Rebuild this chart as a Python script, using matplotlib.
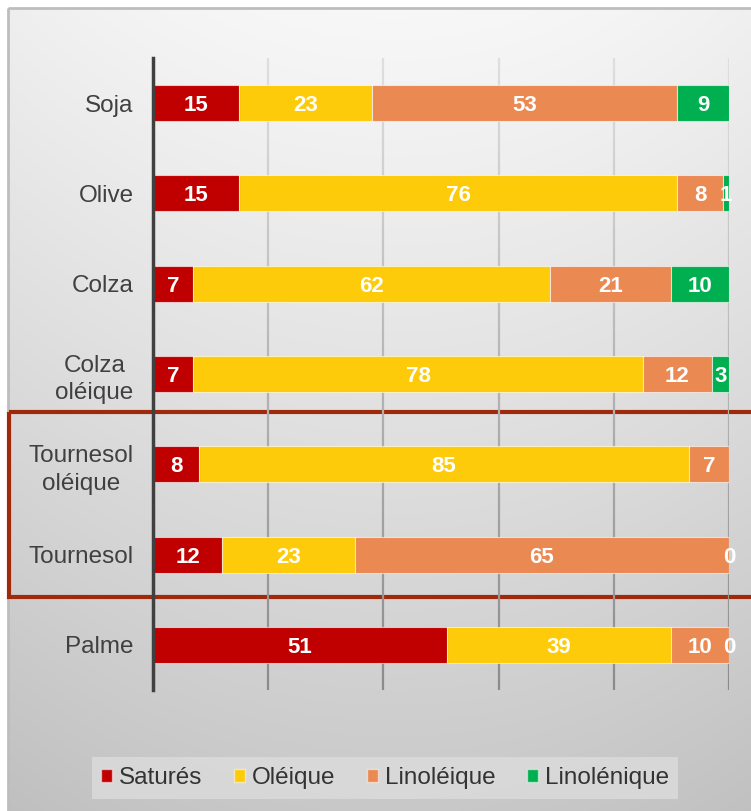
import numpy as np
import matplotlib
matplotlib.use('Agg')
import matplotlib.pyplot as plt
from matplotlib.patches import Rectangle, Patch
from matplotlib.collections import LineCollection

plt.rcParams['font.family'] = ['Liberation Sans', 'DejaVu Sans']

categories = ['Soja', 'Olive', 'Colza', 'Colza\noléique', 'Tournesol\noléique', 'Tournesol', 'Palme']
series = ['Saturés', 'Oléique', 'Linoléique', 'Linolénique']
satures = [15, 15, 7, 7, 8, 12, 51]
oleique = [23, 76, 62, 78, 85, 23, 39]
linoleique = [53, 8, 21, 12, 7, 65, 10]
linolenique = [9, 1, 10, 3, np.nan, 0, 0]
colors = ['#C00000', '#FDCB0A', '#EB8953', '#00B050']

W, H = 751, 811
fig = plt.figure(figsize=(W / 100, H / 100), dpi=100)
fig.patch.set_facecolor('white')

# background frame with gradient
bg = fig.add_axes([0, 0, 1, 1], zorder=0)
bg.axis('off')
yy, xx = np.mgrid[0:H, 0:W]
v = 0.97 - 0.19 * (yy / H) ** 1.1
v -= 0.035 * ((xx - 380) / 380.0) ** 2
img = np.dstack([v, v, v])
bg.imshow(img, extent=[8, W + 20, H + 20, 8], aspect='auto', interpolation='bilinear')
bg.add_patch(Rectangle((8, 8), W + 20, H + 20, fill=False, ec='#bdbdbd', lw=2))
# highlight box around sunflower oils
bg.add_patch(Rectangle((9, 412), W + 20, 185, fill=False, ec='#A0290C', lw=3, zorder=5))
bg.set_xlim(0, W)
bg.set_ylim(H, 0)

ax = fig.add_axes([153 / W, 1 - 690 / H, 576 / W, 632 / H], zorder=2)
ax.patch.set_alpha(0)
y = np.arange(len(categories))
data = [satures, oleique, linoleique, linolenique]

# gridlines, lighter at the top like the original
segs, cols = [], []
n = 60
ys = np.linspace(-0.5, 6.5, n + 1)
for xv in [20, 40, 60, 80, 100]:
    for i in range(n):
        segs.append([(xv, ys[i]), (xv, ys[i + 1])])
        t = (ys[i] + 0.5) / 7.0
        g = 0.87 - 0.33 * t
        cols.append((g, g, g))
ax.add_collection(LineCollection(segs, colors=cols, linewidths=1.6, zorder=0))

left = np.zeros(len(categories))
for vals, col, name in zip(data, colors, series):
    vals = np.array(vals, dtype=float)
    w = np.nan_to_num(vals)
    ax.barh(y, w, left=left, height=0.4, color=col, edgecolor=(1, 1, 1, 0.6),
            linewidth=0.8, label=name, zorder=3)
    for yi, (l, vv) in enumerate(zip(left, vals)):
        if np.isnan(vv):
            continue
        ax.text(l + vv / 2, yi, '%d' % vv, ha='center', va='center_baseline', color='white',
                fontsize=16, fontweight='bold', zorder=4, clip_on=False)
    left += w

ax.set_xlim(0, 100)
ax.set_ylim(6.5, -0.5)
ax.set_yticks(y)
ax.set_yticklabels(categories, fontsize=17.5, color='#404040', multialignment='center')
for lab in ax.get_yticklabels():
    lab.set_linespacing(1.35)
ax.set_xticks([])
ax.tick_params(axis='y', length=0, pad=14)
for s in ['top', 'right', 'bottom']:
    ax.spines[s].set_visible(False)
ax.spines['left'].set_color('#404040')
ax.spines['left'].set_linewidth(2.5)
ax.spines['left'].set_zorder(5)

handles = [Patch(facecolor=c, edgecolor=(1, 1, 1, 0.5), label=s) for c, s in zip(colors, series)]
leg = fig.legend(handles=handles, loc='center', bbox_to_anchor=(385 / W, 1 - 778 / H),
                 ncol=4, frameon=True, fontsize=17.5, handlelength=0.45, handleheight=0.45,
                 handletextpad=0.28, columnspacing=1.3, borderpad=0.4, borderaxespad=0,
                 fancybox=False)
leg.get_frame().set_facecolor('#dcdcdc')
leg.get_frame().set_edgecolor('none')
for t in leg.get_texts():
    t.set_color('#333333')

fig.savefig('out.png', dpi=100)
